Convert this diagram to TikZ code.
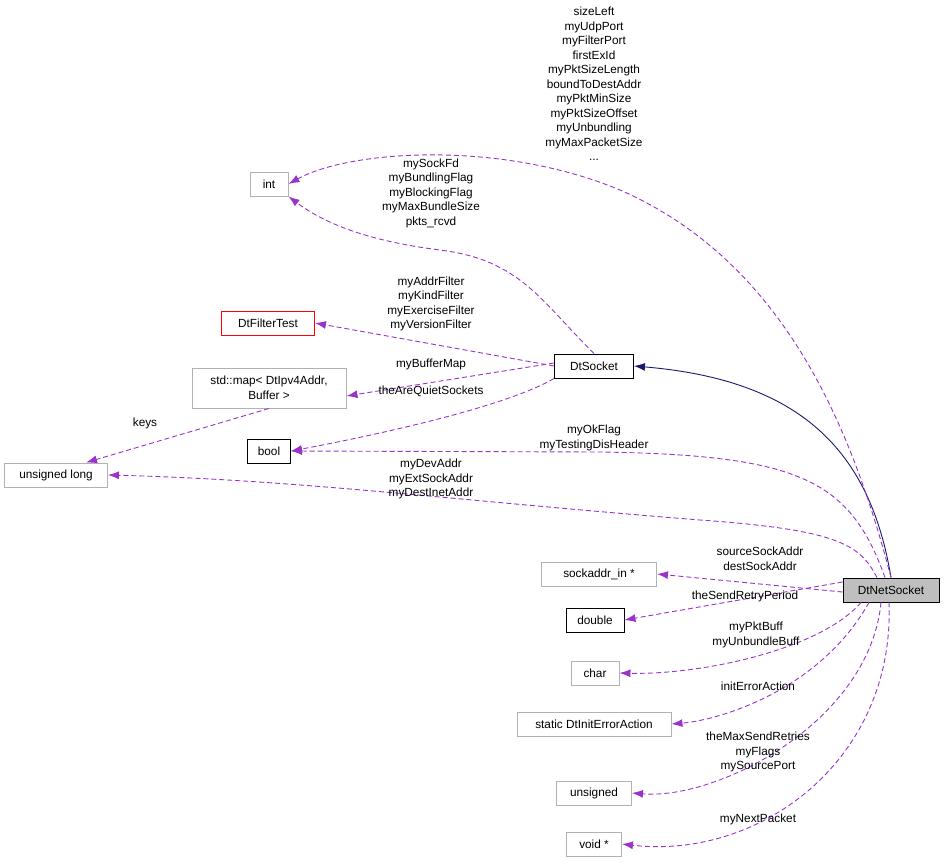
\documentclass[tikz,border=0pt]{standalone}
\usepackage{fontspec}
\setmainfont{Liberation Sans}
\usetikzlibrary{arrows.meta}
\begin{document}
\begin{tikzpicture}[x=1pt,y=-1pt,
 font=\fontsize{11.8}{14.5}\selectfont,
 box/.style={draw=black!30,fill=white,inner sep=0pt,minimum height=24pt,align=center,line width=0.9pt},
 bbox/.style={box,draw=black},
 e/.style={color={rgb,255:red,154;green,50;blue,205},dash pattern=on 5pt off 3pt,line width=0.9pt,-{Latex[length=11pt,width=8pt]}},
 lab/.style={align=center,inner sep=0pt}]
\useasboundingbox (0,0) rectangle (947,867);
\node[box,minimum width=38pt] (int) at (269,184) {int};
\node[box,draw=red,minimum width=93pt] (dft) at (268,323) {DtFilterTest};
\node[box,minimum width=154pt,minimum height=40pt] (map) at (269,388) {std::map\textless{} DtIpv4Addr,\\Buffer \textgreater};
\node[bbox,minimum width=43pt] (bool) at (269,451) {bool};
\node[box,minimum width=103pt] (ul) at (56,475) {unsigned long};
\node[bbox,minimum width=79pt] (dts) at (594,366) {DtSocket};
\node[bbox,fill=black!25,minimum width=96pt] (dtn) at (891,590) {DtNetSocket};
\node[box,minimum width=115pt] (sa) at (599,574) {sockaddr\_in *};
\node[bbox,minimum width=58pt] (dbl) at (595,620) {double};
\node[box,minimum width=48pt] (chr) at (595,673) {char};
\node[box,minimum width=154pt] (sde) at (594,724) {static DtInitErrorAction};
\node[box,minimum width=75pt] (uns) at (594,793) {unsigned};
\node[box,minimum width=55pt] (vd) at (594,844) {void *};

\draw[color={rgb,255:red,25;green,25;blue,112},line width=0.9pt,-{Latex[length=11pt,width=8pt]}] (dtn.north) .. controls (870,450) and (800,380) .. (dts.east);
\draw[e] (dtn.north) .. controls (850,420) and (780,260) .. (620,190) .. controls (500,140) and (350,150) .. (int.east);
\draw[e] (dts.north) .. controls (540,300) and (520,260) .. (440,250) .. controls (360,240) and (320,220) .. (int.south east);
\draw[e] (dts.west) -- (dft.east);
\draw[e] ([yshift=3pt]dts.west) -- ([yshift=-8pt]map.east);
\draw[e] (dts.south west) .. controls (500,410) and (350,440) .. (bool.east);
\draw[e] (map.south) -- ([xshift=30pt]ul.north);
\draw[e] ([xshift=-6pt]dtn.north) .. controls (850,480) and (800,455) .. (600,452) -- (bool.east);
\draw[e] ([xshift=-14pt]dtn.north) .. controls (860,545) and (840,530) .. (700,520) .. controls (450,500) and (300,480) .. (ul.east);
\draw[e] ([yshift=-2pt]dtn.west) -- (sa.east);
\draw[e] ([yshift=8pt]dtn.west) -- (dbl.east);
\draw[e] ([xshift=-30pt]dtn.south) .. controls (820,650) and (700,675) .. (chr.east);
\draw[e] ([xshift=-22pt]dtn.south) .. controls (820,690) and (720,720) .. (sde.east);
\draw[e] ([xshift=-10pt]dtn.south) .. controls (870,720) and (720,800) .. (uns.east);
\draw[e] ([xshift=-2pt]dtn.south) .. controls (895,760) and (760,860) .. (vd.east);

\node[lab] (l1) at (594,84) {sizeLeft\\myUdpPort\\myFilterPort\\firstExId\\myPktSizeLength\\boundToDestAddr\\myPktMinSize\\myPktSizeOffset\\myUnbundling\\myMaxPacketSize\\...};
\node[lab] (l2) at (431,193) {mySockFd\\myBundlingFlag\\myBlockingFlag\\myMaxBundleSize\\pkts\_rcvd};
\node[lab] (l3) at (431,304) {myAddrFilter\\myKindFilter\\myExerciseFilter\\myVersionFilter};
\node[lab] (l4) at (431,364) {myBufferMap};
\node[lab] (l5) at (431,391) {theAreQuietSockets};
\node[lab] (l6) at (145,423) {keys};
\node[lab] (l7) at (594,438) {myOkFlag\\myTestingDisHeader};
\node[lab] (l8) at (431,479) {myDevAddr\\myExtSockAddr\\myDestInetAddr};
\node[lab] (l9) at (760,559) {sourceSockAddr\\destSockAddr};
\node[lab] (l10) at (745,596) {theSendRetryPeriod};
\node[lab] (l11) at (756,635) {myPktBuff\\myUnbundleBuff};
\node[lab] (l12) at (758,686) {initErrorAction};
\node[lab] (l13) at (758,752) {theMaxSendRetries\\myFlags\\mySourcePort};
\node[lab] (l14) at (758,819) {myNextPacket};
\end{tikzpicture}
\end{document}
